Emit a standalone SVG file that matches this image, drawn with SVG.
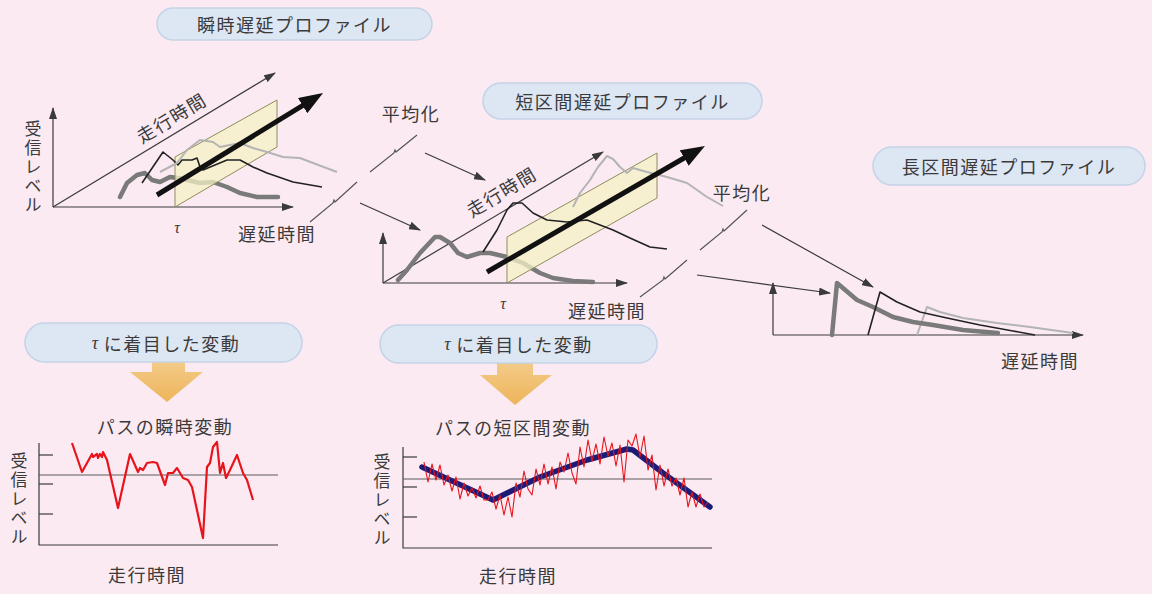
<svg xmlns="http://www.w3.org/2000/svg" width="1152" height="594" viewBox="0 0 1152 594">
<style>
.t{font-family:"Noto Sans CJK JP","Noto Sans",sans-serif;fill:#3a3a3a;font-size:18px;letter-spacing:1.5px;dominant-baseline:central}
.v{font-family:"Noto Sans CJK JP","Noto Sans",sans-serif;fill:#3a3a3a;font-size:17px;letter-spacing:2px;writing-mode:vertical-rl}
.tau{font-family:"Liberation Serif",serif;font-style:italic;fill:#3a3a3a;font-size:16px;text-anchor:middle;dominant-baseline:central}
.pill{fill:#dde6f3;stroke:#c3d3e8;stroke-width:1.5}
.ax{fill:none;stroke:#3a3a3a;stroke-width:1.2}
.axa{fill:none;stroke:#3a3a3a;stroke-width:1.2;marker-end:url(#ah)}
.plane{fill:#f4f2c6;fill-opacity:0.75;stroke:#8e8c5c;stroke-width:1}
.big{fill:none;stroke:#111;stroke-width:5;marker-end:url(#bh)}
.thick{fill:none;stroke:#7a7a7a;stroke-width:4.5;stroke-linejoin:round;stroke-linecap:round}
.blk{fill:none;stroke:#222;stroke-width:1.6;stroke-linejoin:round}
.lgr{fill:none;stroke:#b4b4b4;stroke-width:2;stroke-linejoin:round}
.brk{fill:none;stroke:#555;stroke-width:1.2}
.red{fill:none;stroke:#e8141c;stroke-linejoin:round}
.ref{fill:none;stroke:#5a5a5a;stroke-width:1.2}
.orng{fill:url(#og)}
</style>
<defs>
<marker id="ah" viewBox="0 0 12 8" refX="11" refY="4" markerWidth="12" markerHeight="8" markerUnits="userSpaceOnUse" orient="auto"><path d="M0,0 L12,4 L0,8 z" fill="#3a3a3a"/></marker>
<marker id="bh" viewBox="0 0 24 18" refX="8" refY="9" markerWidth="24" markerHeight="18" markerUnits="userSpaceOnUse" orient="auto"><path d="M0,0 L24,9 L0,18 z" fill="#111"/></marker>
<linearGradient id="og" x1="0" y1="0" x2="0" y2="1"><stop offset="0" stop-color="#f3cc8a"/><stop offset="1" stop-color="#eeb45a"/></linearGradient>
</defs>
<rect x="0" y="0" width="1152" height="594" fill="#fbeaf2"/>

<g id="connectors">
<polygon class="orng" points="152,360 185,360 185,372 203,372 167,402 130,372 152,372"/>
<polygon class="orng" points="497,361 533,361 533,375 552,375 515,405 480,375 497,375"/>
<line class="axa" x1="425" y1="153" x2="485" y2="180"/>
<line class="axa" x1="360" y1="203" x2="420" y2="230"/>
<line class="axa" x1="762" y1="225" x2="873" y2="287"/>
<line class="axa" x1="697" y1="275" x2="830" y2="293"/>
<path class="brk" d="M370,172 L394,153 l1,-3 l1,2 L417,135"/>
<path class="brk" d="M310,222 L333,203 l1,-3 l1,2 L357,182"/>
<path class="brk" d="M700,250 L722,232 l1,-3 l1,2 L747,210"/>
<path class="brk" d="M640,297 L663,280 l1,-3 l1,2 L687,260"/>
</g>

<g id="pill-instant">
<rect class="pill" x="157" y="8" width="275" height="32" rx="16"/>
<text class="t" x="294.5" y="24" text-anchor="middle">瞬時遅延プロファイル</text>
</g>
<g id="pill-short">
<rect class="pill" x="483" y="83" width="279" height="36" rx="18"/>
<text class="t" x="622.5" y="101" text-anchor="middle">短区間遅延プロファイル</text>
</g>
<g id="pill-long">
<rect class="pill" x="873" y="147" width="272" height="38" rx="19"/>
<text class="t" x="1009" y="166" text-anchor="middle">長区間遅延プロファイル</text>
</g>
<g id="pill-tau-left">
<rect class="pill" x="25" y="323" width="277" height="39" rx="19.5"/>
<text class="t" x="166" y="342.5" text-anchor="middle"><tspan font-family="Liberation Serif" font-style="italic">τ</tspan><tspan dx="4">に着目した変動</tspan></text>
</g>
<g id="pill-tau-mid">
<rect class="pill" x="380" y="325" width="277" height="38" rx="19"/>
<text class="t" x="518.5" y="344" text-anchor="middle"><tspan font-family="Liberation Serif" font-style="italic">τ</tspan><tspan dx="4">に着目した変動</tspan></text>
</g>

<g id="panel-instant">
<line class="axa" x1="53" y1="207" x2="53" y2="108"/>
<line class="axa" x1="53" y1="207" x2="293" y2="207"/>
<line class="axa" x1="53" y1="207" x2="275" y2="73"/>
<text class="v" x="33" y="120">受信レベル</text>
<text class="t" x="171" y="117" text-anchor="middle" transform="rotate(-31 171 117)">走行時間</text>
<polyline class="thick" points="120,197 127,183 137,175 145,173 152,180 160,182 170,177 178,178 187,180 200,183 213,182 227,187 240,193 257,197 278,197"/>
<polygon class="plane" points="175,207 175,157 277,100 277,147"/>
<polyline class="blk" points="142,183 163,152 173,160 178,165 182,160 192,160 197,158 200,167 203,170 227,160 240,160 253,167 267,173 293,182 322,187"/>
<polyline class="lgr" points="160,172 177,163 187,150 200,140 213,142 220,147 240,143 253,148 267,152 283,157 300,158 313,163 337,172"/>
<line class="big" x1="157" y1="195" x2="309.4" y2="101.4"/>
<text class="tau" x="177" y="227">τ</text>
<text class="t" x="277" y="233" text-anchor="middle">遅延時間</text>
</g>

<g id="label-avg1"><text class="t" x="411" y="113" text-anchor="middle">平均化</text></g>
<g id="label-avg2"><text class="t" x="742" y="192" text-anchor="middle">平均化</text></g>

<g id="panel-short">
<line class="axa" x1="383" y1="283" x2="383" y2="233"/>
<line class="axa" x1="383" y1="283" x2="627" y2="283"/>
<line class="axa" x1="383" y1="283" x2="603" y2="152"/>
<text class="t" x="501" y="191" text-anchor="middle" transform="rotate(-31 501 191)">走行時間</text>
<polyline class="thick" points="398,280 407,270 420,253 435,237 440,237 450,243 458,253 467,257 480,253 490,253 507,257 523,263 540,273 553,278 573,281 593,282"/>
<polygon class="plane" points="507,283 507,237 657,153 657,198"/>
<polyline class="blk" points="483,252 497,230 507,210 513,203 522,203 533,213 547,220 567,222 587,220 600,225 613,230 630,238 650,247 667,249"/>
<polyline class="lgr" points="573,207 580,193 590,180 598,167 607,156 613,159 620,167 627,173 633,168 647,172 667,177 687,183 707,197 723,206"/>
<line class="big" x1="487" y1="272" x2="691.1" y2="154"/>
<text class="tau" x="503" y="303">τ</text>
<text class="t" x="607" y="310" text-anchor="middle">遅延時間</text>
</g>

<g id="panel-long">
<line class="axa" x1="773" y1="335" x2="773" y2="283"/>
<line class="axa" x1="773" y1="335" x2="1083" y2="335"/>
<polyline class="lgr" points="917,335 927,307 940,312 963,318 997,323 1030,327 1073,333"/>
<polyline class="thick" points="832,335 837,283 857,300 873,307 893,317 913,322 933,325 963,330 998,333"/>
<polyline class="blk" points="868,335 880,292 897,302 920,312 947,318 980,325 1013,331 1035,335"/>
<text class="t" x="1040" y="360" text-anchor="middle">遅延時間</text>
</g>

<g id="chart-instant">
<text class="t" x="165" y="426" text-anchor="middle">パスの瞬時変動</text>
<polyline class="ax" points="39,443 39,545 278,545"/>
<line class="ax" x1="39" y1="455" x2="53" y2="455"/>
<line class="ax" x1="39" y1="484" x2="53" y2="484"/>
<line class="ax" x1="39" y1="514" x2="53" y2="514"/>
<line class="ref" x1="39" y1="475" x2="278" y2="475"/>
<text class="v" x="19" y="452">受信レベル</text>
<polyline class="red" stroke-width="2.2" points="72,443 82,472 92,454 93,457 97,454 98,458 100,454 102,457 103,452 107,460 118,508 130,454 138,472 140,468 143,470 147,463 153,462 157,463 165,485 168,473 173,473 177,468 183,478 188,480 192,487 203,538 207,467 210,463 213,447 217,442 220,473 223,463 226,478 230,470 237,455 243,473 247,480 253,500"/>
<text class="t" x="147" y="574" text-anchor="middle">走行時間</text>
</g>

<g id="chart-short">
<text class="t" x="513" y="427" text-anchor="middle">パスの短区間変動</text>
<polyline class="ax" points="403,447 403,548 712,548"/>
<line class="ax" x1="403" y1="457" x2="417" y2="457"/>
<line class="ax" x1="403" y1="487" x2="417" y2="487"/>
<line class="ax" x1="403" y1="517" x2="417" y2="517"/>
<line class="ref" x1="403" y1="479" x2="712" y2="479"/>
<text class="v" x="382" y="453">受信レベル</text>
<polyline fill="none" stroke="#1c1c78" stroke-width="5.5" stroke-linejoin="round" stroke-linecap="round" points="422,467 493,500 540,477 587,460 627,449 633,450 663,473 710,507"/>
<polyline class="red" stroke-width="1.1" points="424,462 428,482 432,464 436,480 440,465 444,485 448,475 452,491 456,477 460,499 464,483 468,496 472,488 476,498 480,486 484,500 488,500 492,492 496,509 500,495 504,515 508,497 512,517 516,483 520,497 524,471 528,489 532,495 536,469 540,485 544,464 548,484 552,467 556,489 560,462 564,472 568,453 572,473 576,484 580,447 584,467 588,440 592,461 596,444 600,464 604,437 608,456 612,443 616,466 620,445 624,482 628,440 632,446 636,434 640,457 644,436 648,470 652,455 656,490 660,465 664,486 668,469 672,486 676,478 680,495 684,478 688,507 692,492 696,507 700,494 704,507 708,502"/>
<text class="t" x="518" y="575" text-anchor="middle">走行時間</text>
</g>
</svg>
